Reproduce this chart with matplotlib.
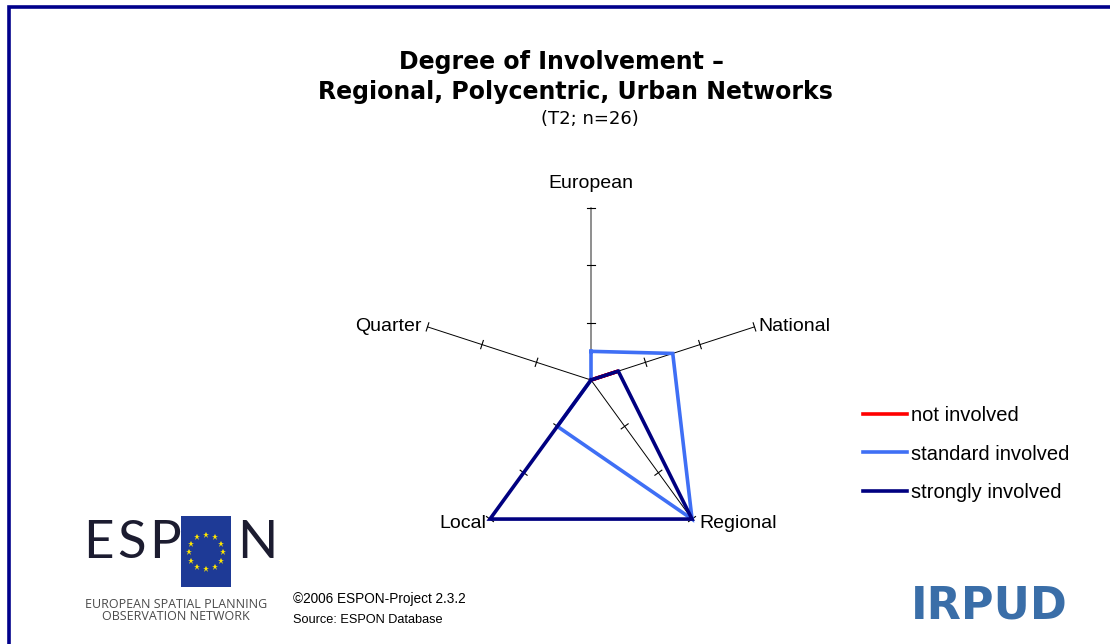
import numpy as np
import matplotlib
matplotlib.use("Agg")
import matplotlib.pyplot as plt
from matplotlib.patches import Rectangle
from matplotlib.lines import Line2D

# data (scale 0..3, one unit per tick)
CATEGORIES = ["European", "National", "Regional", "Local", "Quarter"]
NOT_INVOLVED = [0, 0.5, 0, 0, 0]
STANDARD = [0.5, 1.5, 3, 1, 0]
STRONGLY = [0, 0.5, 3, 3, 0]
SERIES_NAMES = ["not involved", "standard involved", "strongly involved"]
SERIES_COLORS = ["#ff0000", "#3f6ff5", "#000080"]
R_MAX = 3
R_TICKS = [1, 2, 3]

W, H = 1110, 644


def fx(px):
    return px / W


def fy(py):
    return 1 - py / H


def main():
    plt.rcParams["font.family"] = ["Liberation Sans", "DejaVu Sans"]
    fig = plt.figure(figsize=(W / 100, H / 100), dpi=100)

    # frame
    fig.patches.append(Rectangle((fx(8.5), fy(700)), 1.2, fy(7) - fy(700),
                                 transform=fig.transFigure, fill=False,
                                 edgecolor="#00008b", lw=2.6, zorder=0))

    # title
    fig.text(fx(561), fy(62), "Degree of Involvement \u2013", ha="center", va="center",
             family="DejaVu Sans", weight="bold", fontsize=17)
    fig.text(fx(575), fy(92), "Regional, Polycentric, Urban Networks", ha="center",
             va="center", family="DejaVu Sans", weight="bold", fontsize=17)
    fig.text(fx(590), fy(119), "(T2; n=26)", ha="center", va="center",
             family="DejaVu Sans", fontsize=13)

    # radar area: center at (591, 380) px, one unit = 57.3 px
    half = 258
    ax = fig.add_axes([fx(591 - half), fy(380 + half), 2 * half / W, 2 * half / H])
    lim = half / 57.3
    ax.set_xlim(-lim, lim)
    ax.set_ylim(-lim, lim)
    ax.axis("off")

    n = len(CATEGORIES)
    theta = np.deg2rad(90 - 72 * np.arange(n))
    ux, uy = np.cos(theta), np.sin(theta)

    tick_half = 0.075
    for i in range(n):
        col = "#707070" if i == 0 else "black"
        ax.plot([0, R_MAX * ux[i]], [0, R_MAX * uy[i]], color=col,
                lw=1.1 if i == 0 else 0.7, zorder=1)
        for r in R_TICKS:
            px, py = -uy[i], ux[i]
            ax.plot([r * ux[i] - tick_half * px, r * ux[i] + tick_half * px],
                    [r * uy[i] - tick_half * py, r * uy[i] + tick_half * py],
                    color="black", lw=0.8, zorder=1)

    label_offsets = [(0, 25, "center", "center"), (4, 0, "left", "center"),
                     (7, -4, "left", "center"), (-4, -4, "right", "center"),
                     (-6, 0, "right", "center")]
    for i, name in enumerate(CATEGORIES):
        dx, dy, ha, va = label_offsets[i]
        ax.annotate(name, (R_MAX * ux[i], R_MAX * uy[i]), xytext=(dx, dy),
                    textcoords="offset pixels", ha=ha, va=va, fontsize=14)

    handles = []
    for vals, name, color in zip([NOT_INVOLVED, STANDARD, STRONGLY], SERIES_NAMES, SERIES_COLORS):
        v = np.array(vals + vals[:1], dtype=float)
        tx = np.append(ux, ux[0])
        ty = np.append(uy, uy[0])
        ax.plot(v * tx, v * ty, color=color, lw=2.6, solid_joinstyle="miter", zorder=3)
        handles.append(Line2D([], [], color=color, lw=2.6, label=name))

    fig.legend(handles=handles, loc="upper left", bbox_to_anchor=(fx(863), fy(406)),
               frameon=False, fontsize=14.5, handlelength=2.2, handletextpad=0.2,
               labelspacing=0.97, borderpad=0, borderaxespad=0)

    # ESPON logo
    for ch, x in zip("ESP", [83, 117, 149]):
        fig.text(fx(x), fy(543), ch, ha="left", va="center", family="Lato",
                 fontsize=38, color="#1c1c30")
    fig.text(fx(237), fy(543), "N", ha="left", va="center", family="Lato",
             fontsize=38, color="#1c1c30")
    fig.patches.append(Rectangle((fx(181), fy(587)), 50 / W, 71 / H,
                                 transform=fig.transFigure, facecolor="#1e3a96",
                                 edgecolor="none"))
    ang = np.deg2rad(np.arange(0, 360, 30))
    sx = 206 + 17 * np.cos(ang)
    sy = 552 + 17 * np.sin(ang)
    fig.add_artist(Line2D(fx(sx), fy(sy), transform=fig.transFigure, ls="none",
                          marker="*", ms=4.5, color="#ffe600", mew=0))
    fig.text(fx(176), fy(605), "EUROPEAN SPATIAL PLANNING", ha="center", va="center",
             family="Open Sans", fontsize=9, color="#4a4a4a")
    fig.text(fx(176), fy(617), "OBSERVATION NETWORK", ha="center", va="center",
             family="Open Sans", fontsize=9, color="#4a4a4a")

    fig.text(fx(293), fy(599), "\u00a92006 ESPON-Project 2.3.2", ha="left", va="center",
             fontsize=9.8)
    fig.text(fx(293), fy(620), "Source: ESPON Database", ha="left", va="center",
             fontsize=9.2)

    fig.text(fx(911), fy(606), "IRPUD", ha="left", va="center", family="DejaVu Sans",
             weight="heavy", fontsize=32, color="#3a6ea8")

    fig.savefig("out.png", dpi=100)


if __name__ == "__main__":
    main()
